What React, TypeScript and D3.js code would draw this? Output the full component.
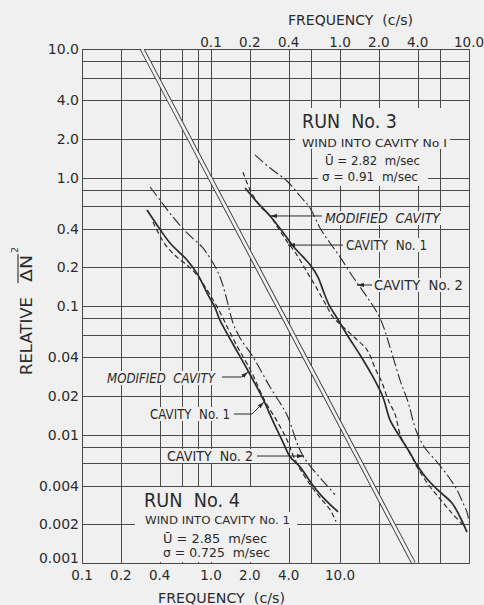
import React from "react";
import * as d3 from "d3";

type Pt = [number, number];

// -- DATA --
// grid + ticks (frequency read on the bottom scale, c/s)
const gridFreq = [0.1, 0.2, 0.4, 0.6, 0.8, 1, 2, 4, 6, 10, 20, 40, 60, 100];
const gridRel = [
  0.001, 0.002, 0.004, 0.006, 0.008, 0.01, 0.02, 0.04, 0.06, 0.08, 0.1, 0.2, 0.4,
  0.6, 0.8, 1, 2, 4, 6, 8, 10,
];
const bottomFreqTicks = [0.1, 0.2, 0.4, 1, 2, 4, 10];
const topFreqTicks = [0.1, 0.2, 0.4, 1, 2, 4, 10];
const freqTickLabels = ["0.1", "0.2", "0.4", "1.0", "2.0", "4.0", "10.0"];
const relTicks = [10, 4, 2, 1, 0.4, 0.2, 0.1, 0.04, 0.02, 0.01, 0.004, 0.002, 0.001];
const relTickLabels = [
  "10.0", "4.0", "2.0", "1.0", "0.4", "0.2", "0.1", "0.04", "0.02", "0.01", "0.004", "0.002", "0.001",
];

// run No. 3 -> top frequency scale
const run3Modified: Pt[] = [
  [0.184, 0.829], [0.227, 0.645], [0.287, 0.502], [0.355, 0.384], [0.432, 0.293],
  [0.517, 0.241], [0.596, 0.205], [0.675, 0.168], [0.738, 0.133], [0.822, 0.102],
  [0.948, 0.0807], [1.15, 0.0584], [1.43, 0.0416], [1.77, 0.029], [2.15, 0.0196],
  [2.44, 0.013], [2.92, 0.00956], [3.49, 0.00718], [3.95, 0.00579], [4.81, 0.00442],
  [5.96, 0.00357], [7.38, 0.00293], [8.52, 0.00228], [9.65, 0.00174],
];
const run3Cavity1: Pt[] = [
  [0.177, 1.1], [0.201, 0.799], [0.24, 0.6], [0.287, 0.502], [0.331, 0.405],
  [0.382, 0.326], [0.464, 0.249], [0.555, 0.184], [0.652, 0.1405], [0.765, 0.1055],
  [0.882, 0.0821], [1.055, 0.0687], [1.31, 0.0564], [1.62, 0.0455], [1.87, 0.0329],
  [2.12, 0.0252], [2.36, 0.0186], [2.67, 0.0144], [2.97, 0.00956], [3.62, 0.00668],
  [3.95, 0.00559], [4.81, 0.00412], [5.96, 0.00315], [7.25, 0.00249], [8.82, 0.00201],
];
const run3Cavity2: Pt[] = [
  [0.219, 1.5], [0.287, 1.185], [0.388, 0.939], [0.49, 0.718], [0.585, 0.579],
  [0.7, 0.405], [0.837, 0.309], [1.0, 0.241], [1.26, 0.168], [1.62, 0.1175],
  [2.04, 0.0807], [2.44, 0.048], [2.92, 0.0265], [3.37, 0.0179], [3.88, 0.0108],
  [4.56, 0.00785], [5.65, 0.00611], [6.87, 0.00475], [8.07, 0.0037], [8.99, 0.00293],
  [9.65, 0.00249], [10.0, 0.00208],
];

// run No. 4 -> bottom frequency scale
const run4Modified: Pt[] = [
  [0.319, 0.559], [0.382, 0.427], [0.481, 0.309], [0.652, 0.228], [0.793, 0.174],
  [0.948, 0.122], [1.07, 0.098], [1.17, 0.078], [1.48, 0.0506], [1.94, 0.0312],
  [2.53, 0.0189], [3.02, 0.0127], [3.62, 0.0087], [4.1, 0.0067], [4.9, 0.0056],
  [6.07, 0.0041], [7.25, 0.0033], [9.65, 0.0025],
];
const run4Cavity1: Pt[] = [
  [0.355, 0.451], [0.395, 0.363], [0.456, 0.288], [0.555, 0.236], [0.663, 0.205],
  [0.779, 0.174], [0.899, 0.141], [1.02, 0.115], [1.15, 0.093], [1.28, 0.075],
  [1.56, 0.0506], [2.04, 0.0312], [2.62, 0.0182], [3.25, 0.0127], [3.88, 0.0091],
  [4.4, 0.0066], [5.26, 0.0048], [6.29, 0.0037], [7.25, 0.0031], [8.37, 0.0026],
  [9.31, 0.0021],
];
const run4Cavity2: Pt[] = [
  [0.337, 0.844], [0.402, 0.668], [0.507, 0.493], [0.652, 0.37], [0.852, 0.288],
  [0.982, 0.236], [1.11, 0.191], [1.22, 0.151], [1.33, 0.111], [1.48, 0.0738],
  [1.68, 0.0564], [2.12, 0.0401], [2.87, 0.0234], [3.88, 0.0142], [4.64, 0.0086],
  [5.17, 0.0068], [5.85, 0.0057], [6.75, 0.0048], [7.93, 0.004], [9.15, 0.0034],
];

// reference slope (the double line), bottom scale
const slopeLine: Pt[] = [[0.292, 10], [37.1, 0.001]];

// where the label arrows touch the curves
const run3Tips: Pt[] = [[0.287, 0.502], [0.395, 0.298], [1.354, 0.1457]];
const run4Tips: Pt[] = [[1.935, 0.0307], [2.576, 0.0179], [5.26, 0.0068]];

const W = 484;
const H = 605;
const BG = "#f0f0f0";
const INK = "#2b2b2b";
const FONT = "'DejaVu Sans', 'Liberation Sans', sans-serif";

const App = () => {
  const svgRef = React.useRef<SVGSVGElement>(null);

  React.useEffect(() => {
    const plot = { left: 82, right: 469, top: 49, bottom: 563 };
    const svg = d3.select(svgRef.current);
    svg.selectAll("*").remove();

    // Scales
    const xB = d3.scaleLog().domain([0.1, 100]).range([plot.left, plot.right]);
    const xT = d3.scaleLog().domain([0.01, 10]).range([plot.left, plot.right]);
    const y = d3.scaleLog().domain([10, 0.001]).range([plot.top, plot.bottom]);
    const crisp = (v: number) => Math.round(v) + 0.5;

    svg.append("rect").attr("width", W).attr("height", H).attr("fill", BG);

    const defs = svg.append("defs");
    defs
      .append("clipPath")
      .attr("id", "plotClip")
      .append("rect")
      .attr("x", plot.left)
      .attr("y", plot.top)
      .attr("width", plot.right - plot.left)
      .attr("height", plot.bottom - plot.top);
    defs
      .append("marker")
      .attr("id", "arrow")
      .attr("viewBox", "0 0 10 6")
      .attr("refX", 10)
      .attr("refY", 3)
      .attr("markerWidth", 7)
      .attr("markerHeight", 4.5)
      .attr("markerUnits", "userSpaceOnUse")
      .attr("orient", "auto")
      .append("path")
      .attr("d", "M0,0L10,3L0,6Z")
      .attr("fill", INK);

    // Grid
    const grid = svg.append("g").attr("stroke", "#4a4a4a").attr("stroke-width", 1);
    grid
      .selectAll("line.v")
      .data(gridFreq)
      .enter()
      .append("line")
      .attr("x1", (d) => crisp(xB(d)))
      .attr("x2", (d) => crisp(xB(d)))
      .attr("y1", plot.top)
      .attr("y2", plot.bottom);
    grid
      .selectAll("line.h")
      .data(gridRel)
      .enter()
      .append("line")
      .attr("y1", (d) => crisp(y(d)))
      .attr("y2", (d) => crisp(y(d)))
      .attr("x1", plot.left)
      .attr("x2", plot.right + 1);

    // blanks under the lettering
    const masks = svg.append("g").attr("fill", BG);
    const boxMasks = [
      [295, 108, 155, 41],
      [318, 149, 110, 37],
      [137, 487, 118, 25],
      [135, 512, 162, 16],
      [158, 528, 116, 34],
    ];
    boxMasks.forEach(([bx, by, bw, bh]) =>
      masks.append("rect").attr("x", bx).attr("y", by).attr("width", bw).attr("height", bh)
    );

    // double line
    const refPath = d3
      .line<Pt>()
      .x((d) => xB(d[0]))
      .y((d) => y(d[1]))(slopeLine);
    const curves = svg.append("g").attr("clip-path", "url(#plotClip)");
    curves.append("path").attr("d", refPath).attr("stroke", "#3a3a3a").attr("stroke-width", 4.6).attr("fill", "none");
    curves.append("path").attr("d", refPath).attr("stroke", BG).attr("stroke-width", 2.8).attr("fill", "none");

    // curves
    const styles = {
      modified: { w: 1.7, dash: null },
      cavity1: { w: 1.2, dash: "5,3" },
      cavity2: { w: 1.1, dash: "11,3,2,3" },
    };
    const series = [
      { data: run3Modified, x: xT, s: styles.modified },
      { data: run3Cavity1, x: xT, s: styles.cavity1 },
      { data: run3Cavity2, x: xT, s: styles.cavity2 },
      { data: run4Modified, x: xB, s: styles.modified },
      { data: run4Cavity1, x: xB, s: styles.cavity1 },
      { data: run4Cavity2, x: xB, s: styles.cavity2 },
    ];
    series.forEach(({ data, x, s }) => {
      const gen = d3
        .line<Pt>()
        .x((d) => x(d[0]))
        .y((d) => y(d[1]))
        .curve(d3.curveCatmullRom.alpha(0.5));
      curves
        .append("path")
        .attr("d", gen(data))
        .attr("fill", "none")
        .attr("stroke", INK)
        .attr("stroke-width", s.w)
        .attr("stroke-dasharray", s.dash);
    });

    // text
    const texts = svg.append("g").attr("fill", INK).style("font-family", FONT);
    const label = (
      x: number,
      yb: number,
      s: string,
      size: number,
      opts: { w?: number; anchor?: string; italic?: boolean; mask?: boolean } = {}
    ) => {
      const t = texts
        .append("text")
        .attr("x", x)
        .attr("y", yb)
        .attr("font-size", size)
        .attr("text-anchor", opts.anchor || "start")
        .style("white-space", "pre")
        .text(s);
      if (opts.italic) t.attr("font-style", "italic");
      if (opts.w) t.attr("textLength", opts.w).attr("lengthAdjust", "spacingAndGlyphs");
      if (opts.mask) {
        const b = (t.node() as SVGTextElement).getBBox();
        masks
          .append("rect")
          .attr("x", b.x - 3)
          .attr("y", b.y + 1)
          .attr("width", b.width + 6)
          .attr("height", b.height - 2);
      }
      return t;
    };

    // axis tick labels
    bottomFreqTicks.forEach((v, i) => label(xB(v), 580, freqTickLabels[i], 13.5, { anchor: "middle" }));
    topFreqTicks.forEach((v, i) => label(xT(v), 46.5, freqTickLabels[i], 13.5, { anchor: "middle" }));
    relTicks.forEach((v, i) =>
      label(79, y(v) + 5 - (i === relTicks.length - 1 ? 5 : 0), relTickLabels[i], 14, { anchor: "end" })
    );

    // axis titles
    label(288, 25, "FREQUENCY  (c/s)", 14, { w: 125 });
    label(158, 603, "FREQUENCY  (c/s)", 14, { w: 127 });
    const yTitle = texts.append("g").attr("transform", "translate(32,375) rotate(-90)");
    yTitle.append("text").attr("font-size", 16).attr("textLength", 78).attr("lengthAdjust", "spacingAndGlyphs").text("RELATIVE");
    yTitle.append("text").attr("x", 93).attr("font-size", 16).attr("textLength", 27).attr("lengthAdjust", "spacingAndGlyphs").text("ΔN");
    yTitle.append("line").attr("x1", 92).attr("x2", 121).attr("y1", -14).attr("y2", -14).attr("stroke", INK).attr("stroke-width", 1.1);
    yTitle.append("text").attr("x", 122).attr("y", -14).attr("font-size", 9.5).text("2");

    // run No. 3 block
    label(302, 128, "RUN  No. 3", 19, { w: 95 });
    label(302, 146.5, "WIND INTO CAVITY No I", 10, { w: 145 });
    label(325, 165, "Ū = 2.82  m/sec", 13, { w: 95 });
    label(322, 181, "σ = 0.91  m/sec", 13, { w: 96 });
    label(325, 223, "MODIFIED  CAVITY", 14, { w: 115, italic: true, mask: true });
    label(346, 250, "CAVITY  No. 1", 14, { w: 81, mask: true });
    label(374, 290, "CAVITY  No. 2", 14, { w: 89, mask: true });

    // run No. 4 block
    label(144, 507, "RUN  No. 4", 19, { w: 96 });
    label(145, 524, "WIND INTO CAVITY No. 1", 10, { w: 145 });
    label(163, 543, "Ū = 2.85  m/sec", 13, { w: 104 });
    label(163, 557, "σ = 0.725  m/sec", 13, { w: 107 });
    label(107, 383, "MODIFIED  CAVITY", 14, { w: 108, italic: true, mask: true });
    label(150, 419, "CAVITY  No. 1", 14, { w: 80, mask: true });
    label(167, 461, "CAVITY  No. 2", 14, { w: 86, mask: true });

    // leaders with arrow heads
    const leaders = svg.append("g").attr("fill", "none").attr("stroke", INK).attr("stroke-width", 1);
    const lead = (pts: Pt[]) =>
      leaders.append("path").attr("d", d3.line()(pts)).attr("marker-end", "url(#arrow)");
    const t3 = run3Tips.map(([f, r]) => [xT(f), y(r)] as Pt);
    const t4 = run4Tips.map(([f, r]) => [xB(f), y(r)] as Pt);
    lead([[322, t3[0][1]], t3[0]]);
    lead([[343, t3[1][1]], t3[1]]);
    lead([[372, t3[2][1]], t3[2]]);
    lead([[222, 377], [242, 377], t4[0]]);
    lead([[234, 414], [252, 414], t4[1]]);
    lead([[257, t4[2][1]], t4[2]]);
  }, []);

  return (
    <svg
      ref={svgRef}
      width={W}
      height={H}
      style={{ position: "absolute", left: 0, top: 0, display: "block" }}
    />
  );
};

export default App;
